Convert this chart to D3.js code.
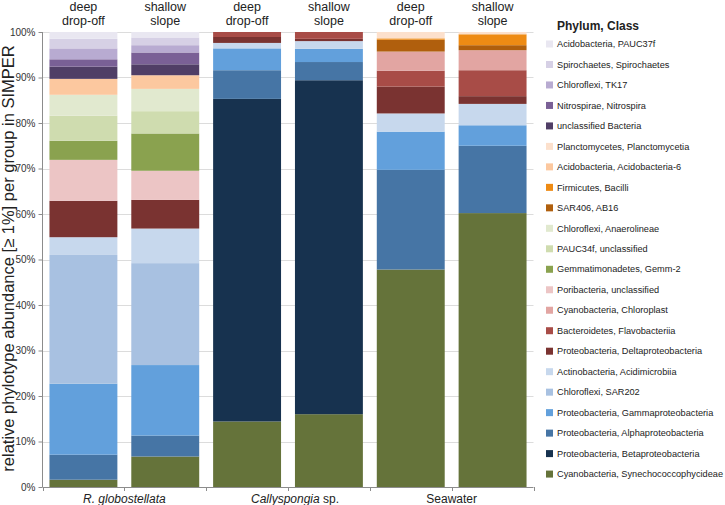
<!DOCTYPE html>
<html><head><meta charset="utf-8">
<script src="https://cdn.jsdelivr.net/npm/d3@7"></script>
<style>
html,body{margin:0;padding:0;background:#fff;}
svg{display:block;font-family:"Liberation Sans",Arial,Helvetica,sans-serif;}
</style></head>
<body><svg id="c" width="725" height="505"></svg>
<script>
// taxa, stacked bottom -> top
const taxa = [
 "Cyanobacteria, Synechococcophycideae","Proteobacteria, Betaproteobacteria","Proteobacteria, Alphaproteobacteria",
 "Proteobacteria, Gammaproteobacteria","Chloroflexi, SAR202","Actinobacteria, Acidimicrobiia",
 "Proteobacteria, Deltaproteobacteria","Bacteroidetes, Flavobacteriia","Cyanobacteria, Chloroplast",
 "Poribacteria, unclassified","Gemmatimonadetes, Gemm-2","PAUC34f, unclassified","Chloroflexi, Anaerolineae",
 "SAR406, AB16","Firmicutes, Bacilli","Acidobacteria, Acidobacteria-6","Planctomycetes, Planctomycetia",
 "unclassified Bacteria","Nitrospirae, Nitrospira","Chloroflexi, TK17","Spirochaetes, Spirochaetes","Acidobacteria, PAUC37f"];
const taxaColors = ["#65733a","#17324f","#4675a5","#62a0dc","#a8c1e1","#c7d8ed","#7a3331","#a84c47","#e2a5a2",
 "#ecc5c5","#8aa24f","#cfdcaf","#e1e9cf","#b05f0d","#ee8b14","#fcc89f","#fce0cc","#503e66","#7a6096","#b8abd1","#d6d0e5","#e9e7f1"];
const samples = ["Rg deep","Rg shallow","Cs deep","Cs shallow","Sw deep","Sw shallow"];
const sampleLabels = [["deep","drop-off"],["shallow","slope"],["deep","drop-off"],["shallow","slope"],["deep","drop-off"],["shallow","slope"]];
const groups = ["R. globostellata","Callyspongia sp.","Seawater"];
const yTicks = [0,10,20,30,40,50,60,70,80,90,100];
// values (%) per sample, in taxa order
const rgDeep    = [1.6,0,5.5,15.6,28.3,3.9,8.0,0,0,9.0,4.2,5.5,4.6,0,0,3.5,0,2.7,1.6,2.4,2.1,1.5];
const rgShallow = [6.7,0,4.6,15.5,22.4,7.6,6.3,0,0,6.4,8.2,4.9,4.9,0,0,3.0,0,2.4,2.6,1.6,1.7,1.2];
const csDeep    = [14.4,70.9,6.3,4.8,0,1.2,1.3,1.1,0,0,0,0,0,0,0,0,0,0,0,0,0,0];
const csShallow = [16.0,73.4,4.0,2.9,0,1.7,0.5,1.5,0,0,0,0,0,0,0,0,0,0,0,0,0,0];
const swDeep    = [47.8,0,21.9,8.4,0,4.0,5.9,3.5,4.2,0,0,0,0,2.6,0.3,0,1.4,0,0,0,0,0];
const swShallow = [60.2,0,14.8,4.5,0,4.7,1.7,5.7,4.4,0,0,0,0,1.1,2.4,0,0.5,0,0,0,0,0];
const values = [rgDeep,rgShallow,csDeep,csShallow,swDeep,swShallow];

const svg = d3.select("#c");
const x = d3.scaleBand().domain(samples).range([42.5,533.5]).paddingInner(0.17).paddingOuter(0.085);
const y = d3.scaleLinear().domain([0,100]).range([487,32]);
const axisCol = "#8c8c8c";

// gridlines
svg.append("g").selectAll("line").data(yTicks.slice(1)).join("line")
  .attr("x1",42.5).attr("x2",533.5).attr("y1",d=>Math.round(y(d))+0.5).attr("y2",d=>Math.round(y(d))+0.5)
  .attr("stroke","#dcdcdc").attr("stroke-width",1);

// stacked bars
const rows = samples.map((s,i)=>{const o={sample:s}; taxa.forEach((t,j)=>o[t]=values[i][j]); return o;});
const series = d3.stack().keys(taxa)(rows);
svg.append("g").selectAll("g").data(series).join("g")
  .attr("fill",(d,i)=>taxaColors[i])
  .selectAll("rect").data(d=>d.filter(p=>p[1]-p[0]>0)).join("rect")
  .attr("x",d=>x(d.data.sample)).attr("width",x.bandwidth())
  .attr("y",d=>y(d[1])).attr("height",d=>y(d[0])-y(d[1]));

// y axis
const yAxis = d3.axisLeft(y).tickValues(yTicks).tickFormat(d=>d+"%").tickSize(4).tickPadding(3);
const gy = svg.append("g").attr("transform","translate(42.5,0)").call(yAxis);
gy.select(".domain").attr("stroke",axisCol).attr("d","M0,32V487");
gy.selectAll(".tick line").attr("stroke",axisCol);
gy.selectAll(".tick text").attr("fill","#333").attr("font-size",10).attr("font-family","Liberation Sans, Arial, sans-serif");

// x axis with ticks at band boundaries
const gx = svg.append("g");
gx.append("line").attr("x1",42.5).attr("x2",533.5).attr("y1",487.5).attr("y2",487.5).attr("stroke",axisCol);
const bounds = samples.map(s=>x(s)-x.step()*x.paddingInner()/2).concat([533.5]);
gx.selectAll("line.t").data(bounds).join("line").attr("class","t")
  .attr("x1",d=>Math.round(d)+0.5).attr("x2",d=>Math.round(d)+0.5).attr("y1",487).attr("y2",491).attr("stroke",axisCol);

// group labels
const gl = svg.append("g").attr("font-size",12).attr("fill","#222").attr("text-anchor","middle");
groups.forEach((g,i)=>{
  const cx = (x(samples[2*i]) + x(samples[2*i+1]) + x.bandwidth())/2;
  const t = gl.append("text").attr("x",cx).attr("y",503);
  if(i===0){ t.append("tspan").attr("font-style","italic").text(g); }
  else if(i===1){ t.attr("x",cx+7); const p=g.split(" "); t.append("tspan").attr("font-style","italic").text(p[0]); t.append("tspan").text(" "+p[1]); }
  else t.text(g);
});

// sample labels at top
const sl = svg.append("g").attr("font-size",12.5).attr("fill","#222").attr("text-anchor","middle");
samples.forEach((s,i)=>{
  const cx = x(s)+x.bandwidth()/2;
  sl.append("text").attr("x",cx).attr("y",11).text(sampleLabels[i][0]);
  sl.append("text").attr("x",cx).attr("y",25).text(sampleLabels[i][1]);
});

// y title
svg.append("text").attr("transform","translate(13.5,258.5) rotate(-90)").attr("text-anchor","middle")
  .attr("font-size",16.5).attr("fill","#222").text("relative phylotype abundance [\u2265 1%] per group in SIMPER");

// legend
const lg = svg.append("g");
lg.append("text").attr("x",557).attr("y",30).attr("font-size",12).attr("font-weight","bold").attr("fill","#222").text("Phylum, Class");
const legendOrder = taxa.map((t,i)=>i).reverse();
legendOrder.forEach((ti,k)=>{
  const cy = 44 + k*20.48;
  lg.append("rect").attr("x",546).attr("y",cy-3.5).attr("width",7).attr("height",7).attr("fill",taxaColors[ti]);
  lg.append("text").attr("x",557).attr("y",cy+3.2).attr("font-size",9.2).attr("fill","#222").text(taxa[ti]);
});
</script></body></html>
